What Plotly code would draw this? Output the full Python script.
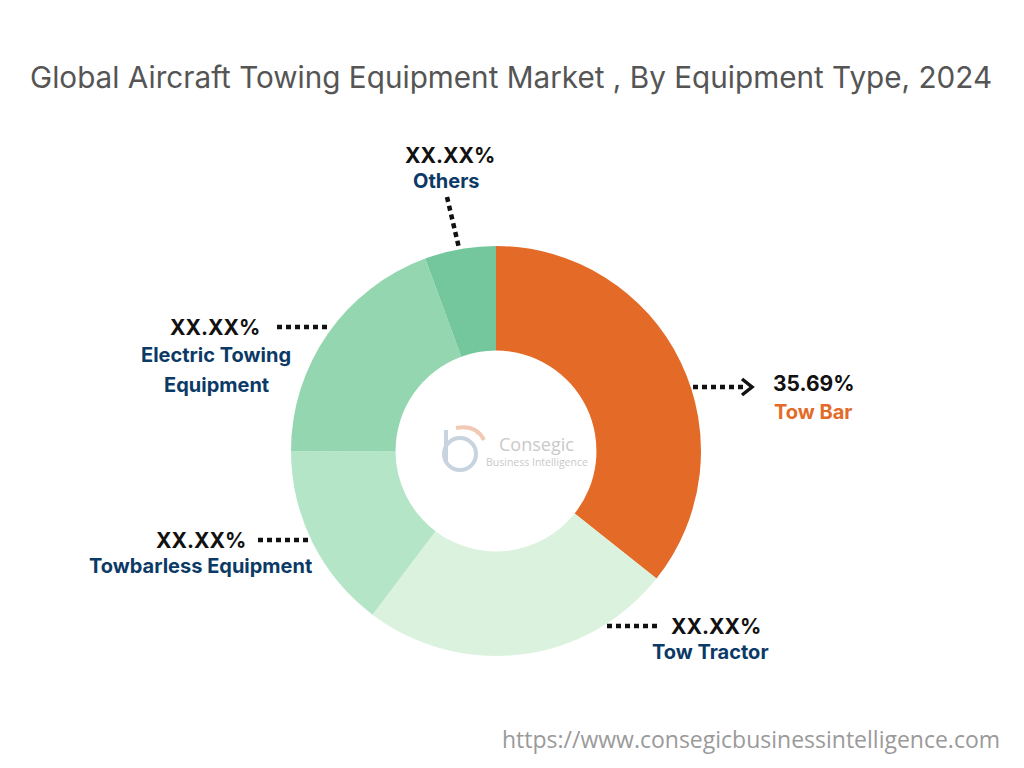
from plotly import graph_objects as go

# slice data (clockwise from 12 o'clock)
segments = ['Tow Bar', 'Tow Tractor', 'Towbarless Equipment', 'Electric Towing Equipment', 'Others']
shares = [35.69, 24.6, 14.7, 19.4, 5.61]
value_labels = ['35.69%', 'XX.XX%', 'XX.XX%', 'XX.XX%', 'XX.XX%']
colors = ['#E46A28', '#DAF2DE', '#B4E5C7', '#93D6B0', '#74C79C']

# page has an 8px body margin, so the figure is a bit smaller than the window
OFF = 8
W, H = 1024 - 2 * OFF, 768 - 2 * OFF
NAVY = '#0B3A66'
ORANGE = '#E46A28'
FONT = 'Inter'


def px_x(x):
    return (x - OFF) / W


def px_y(y):
    return 1 - (y - OFF) / H


fig = go.Figure(
    go.Pie(
        labels=segments,
        values=shares,
        hole=0.49,
        sort=False,
        direction='clockwise',
        rotation=0,
        marker=dict(colors=colors, line=dict(width=0)),
        textinfo='none',
        hoverinfo='label+percent',
        domain=dict(x=[px_x(291), px_x(701)], y=[px_y(656), px_y(246)]),
        showlegend=False,
    )
)

# label positions: (pct text x, y, anchor), [name lines x, y, anchor]
label_pos = {
    'Tow Bar': ((771, 383, 'left'), [('Tow Bar', 772, 412, 'left')]),
    'Tow Tractor': ((669, 626, 'left'), [('Tow Tractor', 710, 652, 'center')]),
    'Towbarless Equipment': ((248, 540, 'right'), [('Towbarless Equipment', 200, 566, 'center')]),
    'Electric Towing Equipment': ((262, 327, 'right'), [('Electric Towing', 216, 355, 'center'),
                                                        ('Equipment', 216, 385, 'center')]),
    'Others': ((450, 155, 'center'), [('Others', 446, 181, 'center')]),
}

annotations = []
for seg, val in zip(segments, value_labels):
    (vx, vy, va), names = label_pos[seg]
    annotations.append(dict(
        x=px_x(vx), y=px_y(vy), xref='paper', yref='paper', text=f'<b>{val}</b>',
        showarrow=False, xanchor=va, yanchor='middle',
        font=dict(family=FONT, size=21, color='#111111'),
    ))
    for txt, nx, ny, na in names:
        annotations.append(dict(
            x=px_x(nx), y=px_y(ny), xref='paper', yref='paper', text=f'<b>{txt}</b>',
            showarrow=False, xanchor=na, yanchor='middle', align='center',
            font=dict(family=FONT, size=20, color=ORANGE if seg == 'Tow Bar' else NAVY),
        ))

# title
annotations.append(dict(
    x=px_x(511), y=px_y(77), xref='paper', yref='paper',
    text='Global Aircraft Towing Equipment Market , By Equipment Type, 2024',
    showarrow=False, xanchor='center', yanchor='middle',
    font=dict(family='Inter', size=29.7, color='#555555'),
))

# website footer
annotations.append(dict(
    x=px_x(1002), y=px_y(739), xref='paper', yref='paper',
    text='https://www.consegicbusinessintelligence.com',
    showarrow=False, xanchor='right', yanchor='middle',
    font=dict(family='Open Sans', size=23, color='#9A9A9A'),
))

# centre logo
annotations.append(dict(
    x=px_x(497), y=px_y(444), xref='paper', yref='paper', text='Consegic',
    showarrow=False, xanchor='left', yanchor='middle',
    font=dict(family='Open Sans', size=18, color='#C9C9C9'),
))
annotations.append(dict(
    x=px_x(484), y=px_y(462), xref='paper', yref='paper', text='Business Intelligence',
    showarrow=False, xanchor='left', yanchor='middle',
    font=dict(family='Open Sans', size=10.5, color='#C9C9C9'),
))

# dotted leader lines (pixel coords)
leaders = [
    (447, 197, 459, 248),
    (277, 327, 330, 327),
    (693, 387, 745, 387),
    (258, 540, 310, 540),
    (607, 626, 660, 626),
]
shapes = []
for x0, y0, x1, y1 in leaders:
    shapes.append(dict(
        type='line', xref='paper', yref='paper',
        x0=px_x(x0), y0=px_y(y0), x1=px_x(x1), y1=px_y(y1),
        line=dict(color='#111111', width=4.5, dash='5px,4px'),
    ))
# arrow head for Tow Bar
shapes.append(dict(
    type='path', xref='paper', yref='paper',
    path=f'M {px_x(742)} {px_y(379)} L {px_x(752)} {px_y(387)} L {px_x(742)} {px_y(395)}',
    line=dict(color='#111111', width=3.5),
))
# logo glyph
shapes.append(dict(
    type='circle', xref='paper', yref='paper',
    x0=px_x(444), y0=px_y(470), x1=px_x(476), y1=px_y(438),
    line=dict(color='#C8D3E0', width=4),
))
shapes.append(dict(
    type='line', xref='paper', yref='paper',
    x0=px_x(446), y0=px_y(430), x1=px_x(446), y1=px_y(462),
    line=dict(color='#C8D3E0', width=4),
))
shapes.append(dict(
    type='path', xref='paper', yref='paper',
    path=f'M {px_x(456)} {px_y(428)} Q {px_x(476)} {px_y(424)} {px_x(484)} {px_y(440)}',
    line=dict(color='#F2C9B4', width=4),
))

fig.update_layout(
    width=W, height=H,
    margin=dict(l=0, r=0, t=0, b=0),
    paper_bgcolor='white',
    plot_bgcolor='white',
    annotations=annotations,
    shapes=shapes,
)

fig.write_html("out.html")
